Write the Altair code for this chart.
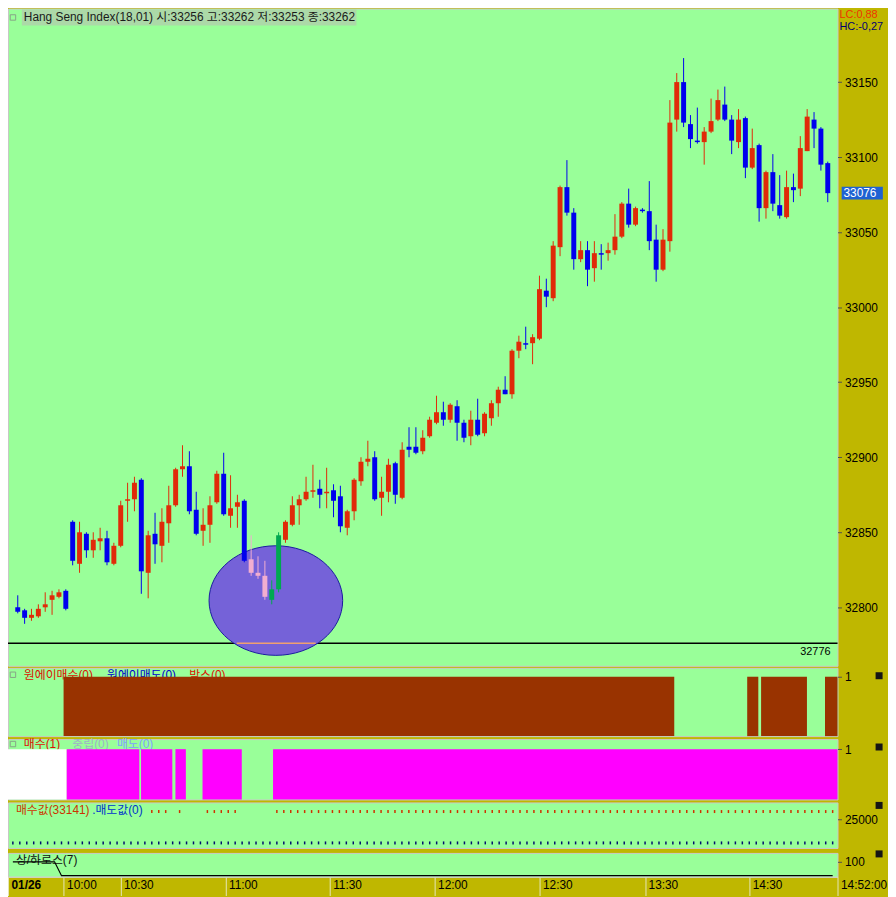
import altair as alt
import pandas as pd

# ---------------- data ----------------
opens = [32800, 32798, 32793, 32794, 32800, 32805, 32807, 32811, 32857, 32829,
         32849, 32838, 32844, 32846, 32829, 32841, 32871, 32872, 32885, 32823,
         32849, 32841, 32856, 32868, 32892, 32894, 32865, 32851, 32855, 32870,
         32889, 32861, 32867, 32871, 32832, 32823, 32821, 32805, 32812, 32845,
         32855, 32868, 32872, 32877, 32879, 32876, 32878, 32874, 32853, 32864,
         32884, 32897, 32900, 32873, 32877, 32896, 32873, 32907, 32907, 32904,
         32914, 32923, 32930, 32925, 32934, 32923, 32914, 32925, 32916, 32926,
         32936, 32945, 32942, 32971, 32976, 32976, 32979, 33011, 33006, 33040,
         33080, 33063, 33032, 33038, 33026, 33036, 33036, 33038, 33047, 33069,
         33055, 33065, 33064, 33045, 33025, 33044, 33125, 33150, 33122, 33111,
         33110, 33117, 33125, 33135, 33125, 33110, 33126, 33093, 33108, 33066,
         33090, 33068, 33060, 33080, 33079, 33104, 33125, 33119, 33096]
highs = [32808, 32799, 32799, 32802, 32810, 32811, 32812, 32812, 32858, 32857,
         32850, 32850, 32853, 32851, 32843, 32871, 32883, 32887, 32886, 32851,
         32863, 32866, 32881, 32893, 32908, 32904, 32877, 32866, 32874, 32891,
         32903, 32888, 32875, 32872, 32848, 32834, 32831, 32818, 32850, 32858,
         32874, 32875, 32887, 32895, 32885, 32893, 32882, 32881, 32865, 32886,
         32900, 32911, 32904, 32887, 32899, 32897, 32910, 32920, 32920, 32918,
         32927, 32941, 32937, 32936, 32938, 32925, 32931, 32939, 32930, 32938,
         32947, 32954, 32972, 32981, 32987, 32982, 33021, 33019, 33044, 33081,
         33098, 33066, 33044, 33044, 33044, 33042, 33043, 33062, 33070, 33079,
         33067, 33066, 33084, 33055, 33052, 33138, 33156, 33166, 33128, 33133,
         33120, 33139, 33145, 33147, 33128, 33132, 33127, 33119, 33109, 33091,
         33102, 33088, 33091, 33089, 33114, 33132, 33130, 33120, 33097]
lows = [32796, 32789, 32791, 32793, 32797, 32795, 32806, 32798, 32828, 32823,
        32833, 32833, 32838, 32828, 32828, 32840, 32857, 32864, 32809, 32806,
        32829, 32830, 32843, 32867, 32887, 32862, 32848, 32841, 32843, 32869,
        32861, 32853, 32853, 32830, 32821, 32819, 32805, 32802, 32810, 32843,
        32854, 32855, 32871, 32873, 32866, 32866, 32860, 32850, 32848, 32858,
        32881, 32894, 32871, 32861, 32870, 32869, 32872, 32900, 32902, 32902,
        32913, 32922, 32921, 32923, 32911, 32910, 32908, 32914, 32914, 32921,
        32927, 32942, 32939, 32966, 32972, 32962, 32978, 33000, 33004, 33034,
        33061, 33025, 33030, 33014, 33017, 33025, 33031, 33035, 33046, 33053,
        33054, 33063, 33038, 33017, 33024, 33037, 33117, 33120, 33106, 33109,
        33095, 33116, 33124, 33124, 33102, 33106, 33086, 33092, 33057, 33059,
        33064, 33059, 33059, 33070, 33074, 33104, 33106, 33091, 33070]
closes = [32797, 32793, 32795, 32799, 32802, 32808, 32810, 32799, 32831, 32850,
          32838, 32845, 32846, 32830, 32841, 32868, 32872, 32883, 32824, 32848,
          32842, 32857, 32868, 32892, 32894, 32864, 32849, 32855, 32868, 32889,
          32862, 32866, 32870, 32831, 32823, 32821, 32807, 32812, 32848, 32857,
          32868, 32872, 32877, 32878, 32875, 32877, 32871, 32854, 32864, 32885,
          32897, 32899, 32872, 32877, 32895, 32875, 32905, 32905, 32903, 32913,
          32925, 32930, 32925, 32935, 32923, 32913, 32925, 32915, 32929, 32936,
          32945, 32942, 32971, 32977, 32975, 32980, 33012, 33007, 33041, 33080,
          33063, 33032, 33038, 33025, 33036, 33035, 33038, 33047, 33069, 33055,
          33066, 33064, 33044, 33025, 33045, 33123, 33150, 33123, 33112, 33110,
          33117, 33124, 33138, 33125, 33111, 33125, 33093, 33106, 33066, 33090,
          33069, 33061, 33080, 33078, 33106, 33127, 33119, 33095, 33076]
highlighted = [34, 35, 36, 37, 38]          # candles inside the marked ellipse

price_ticks = [32800, 32850, 32900, 32950, 33000, 33050, 33100, 33150]
base_line = 32776
last_price = 33076

time_pos = [-0.7, 7.3, 15.5, 30.6, 45.6, 60.7, 75.8, 91.0, 106.0, 118.7]
time_labels = ["01/26", "10:00", "10:30", "11:00", "11:30", "12:00", "12:30",
               "13:30", "14:30", "14:52:00"]

# 원에이매수 bars (start, end in candle index)
box_start = [7.3, 105.7, 107.7, 116.9]
box_end = [95.2, 107.3, 114.3, 118.7]
# 매수 signal bars
buy_start = [7.75, 18.45, 23.4, 27.3, 37.45]
buy_end = [18.2, 22.95, 24.9, 32.95, 118.7]
buy_value = 33141
buy_dot_idx = [20, 21, 22, 24, 28, 29, 30, 31, 32] + list(range(38, 119))
cross_vals = [100] * 7 + [0] * 112

header = "Hang Seng Index(18,01) 시:33256 고:33262 저:33253 종:33262"

# ---------------- style ----------------
W = 838
H_MAIN, H_P2, H_P3, H_P4, H_P5 = 664, 69, 61, 46, 24
BG = "#99ff99"
OLIVE = "#bfb700"
RED = "#e02a08"
BLUE = "#0000ee"
FONT = "Liberation Sans, Noto Sans CJK KR, sans-serif"

xs = alt.Scale(domain=[-0.7, 118.7], nice=False, zero=False)


def xenc(f):
    return alt.X(f, type="quantitative", scale=xs, axis=None)


def rax(values):
    return alt.Axis(orient="right", values=values, format="d", title=None, grid=False,
                    domain=False, labelFont="Liberation Sans", labelFontSize=12,
                    labelColor="black", tickColor="#505050", tickSize=4, labelPadding=3,
                    labelFlush=False, labelOverlap=False)


def yenc(f, scale, values):
    return alt.Y(f, type="quantitative", scale=scale, axis=rax(values))


def one(**kw):
    return pd.DataFrame({k: [v] for k, v in kw.items()})


def label(text, x, y, color, size=12, weight="normal"):
    return alt.Chart(one(t=text)).mark_text(
        align="left", baseline="middle", font=FONT, fontSize=size, color=color,
        fontWeight=weight).encode(text="t:N", x=alt.value(x), y=alt.value(y))


def icon(x, y):
    return alt.Chart(one(a=0)).mark_point(shape="square", size=30, filled=False,
                                          color="#808080", strokeWidth=1).encode(
        x=alt.value(x), y=alt.value(y))


def blackbox(y):
    return alt.Chart(one(a=0)).mark_point(shape="square", size=50, filled=True,
                                          color="#151515", opacity=1).encode(
        x=alt.value(W + 42), y=alt.value(y))


# ---------------- main panel ----------------
n = len(opens)
kinds = []
for i in range(n):
    up = closes[i] >= opens[i]
    if i in highlighted:
        kinds.append("hl_up" if up else "hl_down")
    else:
        kinds.append("up" if up else "down")
df = pd.DataFrame({"i": list(range(n)), "o": opens, "h": highs, "l": lows,
                   "c": closes, "k": kinds})

ys = alt.Scale(domain=[32761, 33199], nice=False, zero=False)
col = alt.Color("k:N", scale=alt.Scale(domain=["up", "down", "hl_up", "hl_down"],
                                        range=[RED, BLUE, "#00a850", "#f2aed0"]),
                legend=None)

head_bg = alt.Chart(one(a=0)).mark_rect(color="#acd9a8").encode(
    x=alt.value(14), x2=alt.value(352), y=alt.value(1), y2=alt.value(17))
head_txt = label(header, 16, 9, "#1a1a1a")

base_rule = alt.Chart(one(y=base_line)).mark_rule(color="black", strokeWidth=1.5).encode(
    y=yenc("y", ys, price_ticks))

ellipse = alt.Chart(one(x=37.6, y=32804.5)).mark_point(
    shape="M-1,0A1,0.82,0,1,1,1,0A1,0.82,0,1,1,-1,0Z", size=135 * 135,
    filled=True, fill="#7562d8", stroke="#1a1aa0", strokeWidth=1, opacity=1).encode(
    x=xenc("x"), y=yenc("y", ys, price_ticks))
base_seg = alt.Chart(one(x=31.9, x2=43.4, y=base_line)).mark_rule(
    color="#f0a070", strokeWidth=1.5).encode(
    x=xenc("x"), x2="x2", y=yenc("y", ys, price_ticks))

wicks = alt.Chart(df).mark_rule(strokeWidth=1).encode(
    x=xenc("i"), y=yenc("l", ys, price_ticks), y2="h", color=col)
bodies = alt.Chart(df).mark_bar(size=5).encode(
    x=xenc("i"), y=yenc("o", ys, price_ticks), y2="c", color=col)

base_lbl = alt.Chart(one(x=118.4, y=base_line, t=str(base_line))).mark_text(
    align="right", baseline="middle", dy=9, font="Liberation Sans", fontSize=11,
    color="black").encode(x=xenc("x"), y=yenc("y", ys, price_ticks), text="t:N")

last_box = alt.Chart(one(y=last_price)).mark_point(
    shape="M-3.2,-1H3.2V1H-3.2Z", size=169, filled=True, fill="#1f62d2",
    opacity=1, strokeWidth=0).encode(x=alt.value(W + 25), y=yenc("y", ys, price_ticks))
last_txt = alt.Chart(one(y=last_price, t=str(last_price))).mark_text(
    align="left", baseline="middle", font="Liberation Sans", fontSize=12,
    color="white").encode(x=alt.value(W + 6), y=yenc("y", ys, price_ticks), text="t:N")

lc = label("LC:0,88", W + 2, 7, "#ee3300", size=11)
hc = label("HC:-0,27", W + 2, 19, "#000070", size=11)

main = alt.layer(head_bg, icon(5, 9), head_txt, base_rule, ellipse, base_seg, wicks,
                 bodies, base_lbl, last_box, last_txt, lc, hc).properties(
    width=W, height=H_MAIN)

# ---------------- panel 2 : 원에이매수 ----------------
ys2 = alt.Scale(domain=[0, 1.15], nice=False, zero=False)
bx = pd.DataFrame({"s": box_start, "e": box_end, "y0": [0] * 4, "y1": [1] * 4})
p2 = alt.layer(
    icon(5, 7),
    label("원에이매수(0)", 16, 7, "#dd1100"),
    label("원에이매도(0)", 100, 7, "#0000cc"),
    label("박스(0)", 183, 7, "#dd1100"),
    alt.Chart(bx).mark_rect(color="#993300").encode(
        x=xenc("s"), x2="e", y=yenc("y0", ys2, [1]), y2="y1"),
    blackbox(8),
).properties(width=W, height=H_P2)

# ---------------- panel 3 : 매수 ----------------
ys3 = alt.Scale(domain=[0, 1.2], nice=False, zero=False)
bb = pd.DataFrame({"s": buy_start, "e": buy_end, "y0": [0] * 5, "y1": [1] * 5})
wb = one(s=-0.7, e=buy_start[0], y0=0, y1=1)
p3 = alt.layer(
    icon(5, 5),
    label("매수(1)", 16, 5, "#dd1100"),
    label("중립(0)", 65, 5, "#9fb0c8"),
    label("매도(0)", 110, 5, "#7fa0ff"),
    alt.Chart(wb).mark_rect(color="white").encode(
        x=xenc("s"), x2="e", y=yenc("y0", ys3, [1]), y2="y1"),
    alt.Chart(bb).mark_rect(color="#ff00ff").encode(
        x=xenc("s"), x2="e", y=yenc("y0", ys3, [1]), y2="y1"),
    blackbox(8),
).properties(width=W, height=H_P3)

# ---------------- panel 4 : 매수값 / 매도값 ----------------
ys4 = alt.Scale(domain=[-5345, 42762], nice=False, zero=False)
red_dots = pd.DataFrame({"i": buy_dot_idx, "v": [buy_value] * len(buy_dot_idx)})
blue_dots = pd.DataFrame({"i": list(range(n)), "v": [0] * n})
tick_shape = "M0,-1L0,1"
p4 = alt.layer(
    label("매수값(33141)", 8, 8, "#cc3300"),
    label(".매도값(0)", 85, 8, "#0033cc"),
    alt.Chart(red_dots).mark_point(shape=tick_shape, size=9, filled=False,
                                   color="#d03000", strokeWidth=1.5, opacity=1).encode(
        x=xenc("i"), y=yenc("v", ys4, [25000])),
    alt.Chart(blue_dots).mark_point(shape=tick_shape, size=9, filled=False,
                                    color="#001070", strokeWidth=1.5, opacity=1).encode(
        x=xenc("i"), y=yenc("v", ys4, [25000])),
    blackbox(3),
).properties(width=W, height=H_P4)

# ---------------- panel 5 : 상/하로스 ----------------
ys5 = alt.Scale(domain=[-7, 164], nice=False, zero=False)
cross = pd.DataFrame({"i": list(range(n)), "v": cross_vals})
expr = "'" + time_labels[-1] + "'"
for p, t in reversed(list(zip(time_pos[:-1], time_labels[:-1]))):
    expr = f"datum.value < {p + 0.5} ? '{t}' : " + expr
xaxis = alt.Axis(values=time_pos, labelExpr=expr, orient="bottom", title=None,
                 grid=False, tickSize=19, tickColor="#e6e6b8", tickWidth=1,
                 domainColor="#d8d8d0", labelAlign="left", labelBaseline="top",
                 labelPadding=-16, labelOffset=3, labelFont="Liberation Sans",
                 labelFontSize=12, labelColor="black",
                 labelFontWeight={"condition": {"test": "datum.value < 0",
                                                "value": "bold"}, "value": "normal"},
                 labelOverlap=False, labelFlush=False, labelBound=False)
p5 = alt.layer(
    label("상/하로스(7)", 8, 7, "#111111"),
    alt.Chart(cross).mark_line(color="black", strokeWidth=1.2, interpolate="linear").encode(
        x=alt.X("i", type="quantitative", scale=xs, axis=xaxis),
        y=yenc("v", ys5, [100])),
    blackbox(1),
).properties(width=W, height=H_P5)

chart = alt.vconcat(main, p2, p3, p4, p5, spacing=0).properties(
    padding={"left": -2, "top": -5, "right": 0, "bottom": 0}
).configure(background=OLIVE).configure_view(fill=BG, stroke="#c8c8c8", strokeWidth=1)

chart.save("out.html", embed_options={"renderer": "svg", "actions": False})
